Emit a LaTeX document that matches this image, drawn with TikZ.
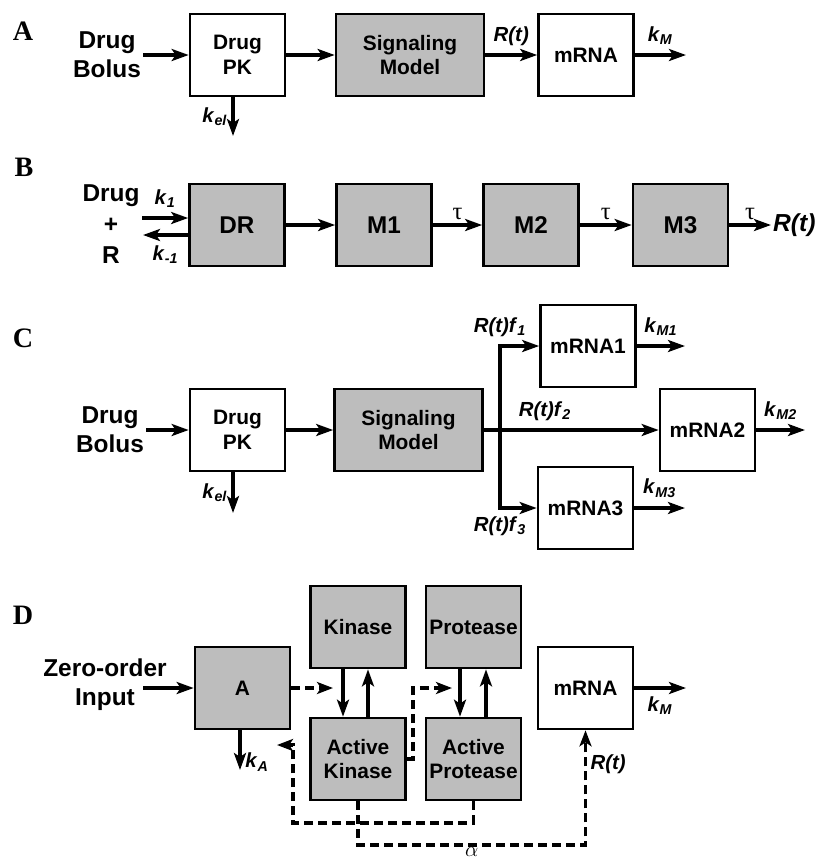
\documentclass[tikz,border=0pt]{standalone}
\usepackage{fontspec}
\setmainfont{Liberation Sans}
\newfontfamily\panelfont{Liberation Serif}
\usepackage{tikz}
\usetikzlibrary{arrows.meta, calc}

\newcommand{\ksub}[2]{\textit{#1}\textsubscript{\textit{#2}}}

\begin{document}
\begin{tikzpicture}[
    x=0.02cm, y=-0.02cm,
    box/.style={draw, line width=1.5pt, minimum width=1.9cm, minimum height=1.64cm, align=center, inner sep=0pt, font=\bfseries\fontsize{11.9}{14}\selectfont},
    wbox/.style={box, fill=white},
    gbox/.style={box, fill=black!26},
    bbox/.style={gbox, font=\bfseries\fontsize{13.8}{16}\selectfont},
    widebox/.style={minimum width=2.96cm},
    txt/.style={align=center, inner sep=1pt, font=\bfseries\fontsize{13.9}{16.5}\selectfont},
    lab/.style={inner sep=2pt, font=\bfseries\fontsize{11.6}{14}\selectfont},
    greek/.style={inner sep=2pt, font=\panelfont\fontsize{14}{16}\selectfont},
    panel/.style={font=\panelfont\bfseries\fontsize{16}{18}\selectfont},
    flow/.style={-{Stealth[length=0.34cm, width=0.24cm, inset=0.08cm]}, line width=2.2pt},
    feedback/.style={-{Stealth[length=0.32cm, width=0.24cm, inset=0.08cm]}, line width=1.9pt, dash pattern=on 0.18cm off 0.1cm}
]
  \useasboundingbox (0,0) rectangle (816,859);

  % Panel A
  \node[panel] (lblA) at (23,31) {A};
  \node[txt] (bolusA) at (107,55) {Drug\\Bolus};
  \node[wbox] (pkA) at (237.5,55) {Drug\\PK};
  \node[gbox, widebox] (sigA) at (410,55) {Signaling\\Model};
  \node[wbox] (mrnaA) at (586,55) {mRNA};
  \coordinate (kelA) at (233,136);
  \coordinate (outA) at (686,55);
  \draw[flow] (bolusA) -- (pkA);
  \draw[flow] (pkA) -- (sigA);
  \draw[flow] (sigA) -- node[lab, above=2pt] {\textit{R(t)}} (mrnaA);
  \draw[flow] (mrnaA) -- node[lab, above=3pt] {\ksub{k}{M}} (outA);
  \draw[flow] (pkA.south -| kelA) -- node[lab, left] {\ksub{k}{el}} (kelA);

  % Panel B
  \node[panel] (lblB) at (24,167) {B};
  \node[txt, font=\bfseries\fontsize{13.9}{17.5}\selectfont] (reactB) at (111,224) {Drug\\+\\R};
  \node[bbox] (drB) at (237,225) {DR};
  \node[bbox] (m1B) at (384,225) {M1};
  \node[bbox] (m2B) at (531,225) {M2};
  \node[bbox] (m3B) at (680.5,225) {M3};
  \node[lab, font=\bfseries\fontsize{14}{16}\selectfont, anchor=west, inner sep=1pt] (rtB) at (771,225) {\textit{R(t)}};
  \coordinate (fwdB) at (142,218);
  \coordinate (bwdB) at (143,235);
  \draw[flow] (fwdB) -- node[lab, above=3pt] {\ksub{k}{1}} (fwdB -| drB.west);
  \draw[flow] (bwdB -| drB.west) -- node[lab, below=3pt] {\ksub{k}{-1}} (bwdB);
  \draw[flow] (drB) -- (m1B);
  \draw[flow] (m1B) -- node[greek, above] {τ} (m2B);
  \draw[flow] (m2B) -- node[greek, above] {τ} (m3B);
  \draw[flow] (m3B) -- node[greek, above] {τ} (rtB);

  % Panel C
  \node[panel] (lblC) at (23,338) {C};
  \node[txt] (bolusC) at (110,430) {Drug\\Bolus};
  \node[wbox] (pkC) at (237.5,430) {Drug\\PK};
  \node[gbox, widebox] (sigC) at (408.5,430) {Signaling\\Model};
  \node[wbox] (mrna1C) at (588,346) {mRNA1};
  \node[wbox] (mrna2C) at (707.5,430) {mRNA2};
  \node[wbox] (mrna3C) at (585.5,508) {mRNA3};
  \coordinate (kelC) at (233,513);
  \coordinate (splitC) at (500,430);
  \coordinate (out1C) at (685,346);
  \coordinate (out2C) at (805,430);
  \coordinate (out3C) at (685,508);
  \draw[flow] (bolusC) -- (pkC);
  \draw[flow] (pkC) -- (sigC);
  \draw[flow] (pkC.south -| kelC) -- node[lab, left] {\ksub{k}{el}} (kelC);
  \draw[flow] (sigC) -- node[lab, above=2pt, pos=0.35] {\ksub{R(t)f}{2}} (mrna2C);
  \draw[flow] (splitC) |- node[lab, above=2pt] {\ksub{R(t)f}{1}} (mrna1C);
  \draw[flow] (splitC) |- node[lab, below=2pt] {\ksub{R(t)f}{3}} (mrna3C);
  \draw[flow] (mrna1C) -- node[lab, above=3pt] {\ksub{k}{M1}} (out1C);
  \draw[flow] (mrna2C) -- node[lab, above=3pt] {\ksub{k}{M2}} (out2C);
  \draw[flow] (mrna3C) -- node[lab, above=3pt] {\ksub{k}{M3}} (out3C);

  % Panel D
  \node[panel] (lblD) at (23,615) {D};
  \node[txt] (inputD) at (105,685) {Zero-order\\Input};
  \node[gbox] (aD) at (242.5,688) {A};
  \node[gbox] (kinD) at (358,627) {Kinase};
  \node[gbox] (akinD) at (358,759) {Active\\Kinase};
  \node[gbox] (protD) at (473.5,627) {Protease};
  \node[gbox] (aprotD) at (473.5,759) {Active\\Protease};
  \node[wbox] (mrnaD) at (585.5,688) {mRNA};
  \coordinate (inD) at (143,688);
  \coordinate (kaD) at (240,770);
  \coordinate (outD) at (686,688);
  \coordinate (actK) at (333,688);
  \coordinate (bendP) at (413,688);
  \coordinate (actP) at (452,688);
  \coordinate (loopA) at (293,823);
  \coordinate (fbA) at (277,745);
  \coordinate (loopR) at (358,845);
  \draw[flow] (inD) -- (aD);
  \draw[flow] ([xshift=-0.3cm]kinD.south) -- ([xshift=-0.3cm]akinD.north);
  \draw[flow] ([xshift=0.2cm]akinD.north) -- ([xshift=0.2cm]kinD.south);
  \draw[flow] ([xshift=-0.27cm]protD.south) -- ([xshift=-0.27cm]aprotD.north);
  \draw[flow] ([xshift=0.25cm]aprotD.north) -- ([xshift=0.25cm]protD.south);
  \draw[flow] (aD.south -| kaD) -- node[lab, right, pos=0.8] {\ksub{k}{A}} (kaD);
  \draw[flow] (mrnaD) -- node[lab, below=2pt] {\ksub{k}{M}} (outD);
  % dashed couplings
  \draw[feedback] (aD.east |- actK) -- (actK);
  \draw[feedback] (akinD.east) -| (bendP) -- (actP);
  \draw[feedback] (aprotD.south) |- (loopA) -- (loopA |- fbA) -- (fbA);
  \draw[feedback] (akinD.south) -- (loopR) -| node[pos=0.25, below, inner sep=0.5pt, font=\fontsize{13}{14}\selectfont] {$\alpha$} node[lab, pos=0.85, right] {\textit{R(t)}} (mrnaD.south);
\end{tikzpicture}
\end{document}
